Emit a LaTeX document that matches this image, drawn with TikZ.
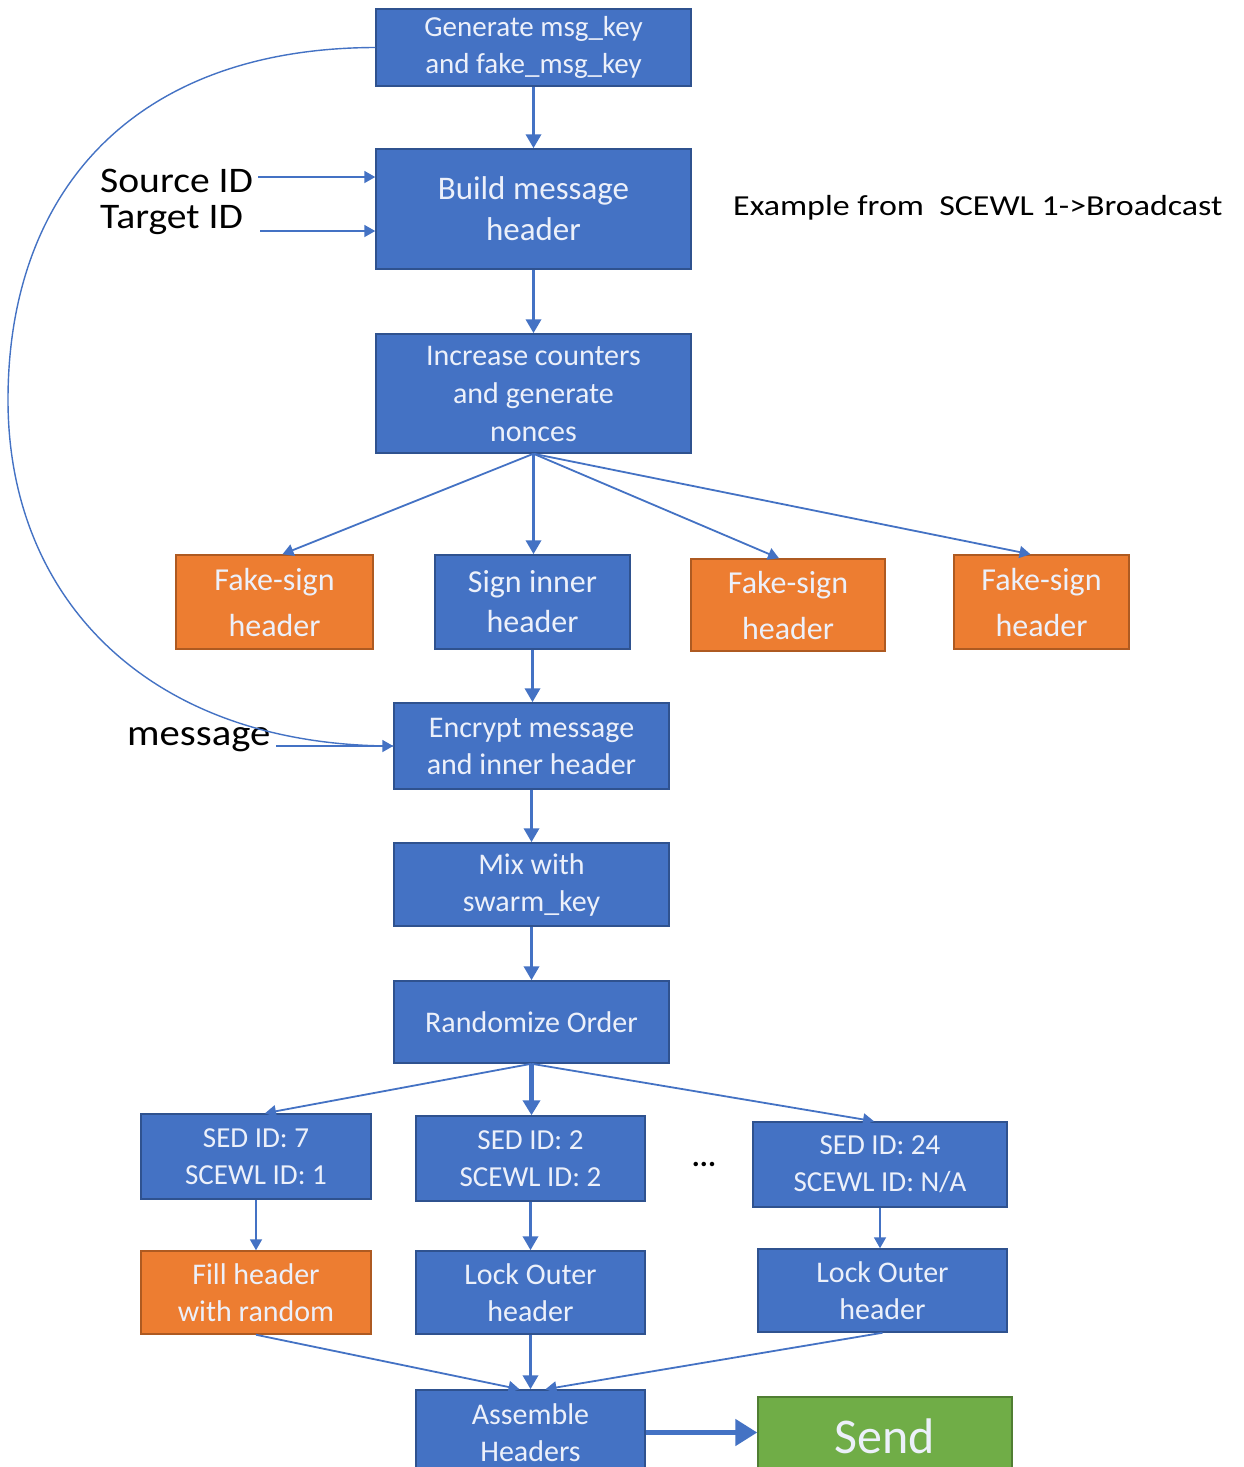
\documentclass[tikz,border=0pt]{standalone}
\usepackage{fontspec}
\setmainfont{Carlito}
\usetikzlibrary{arrows.meta,calc}

\definecolor{boxblue}{HTML}{4472C4}
\definecolor{boxblueline}{HTML}{2F528F}
\definecolor{boxorange}{HTML}{ED7D31}
\definecolor{boxorangeline}{HTML}{AE5A21}
\definecolor{boxgreen}{HTML}{70AD47}
\definecolor{boxgreenline}{HTML}{507E32}
\definecolor{flowline}{HTML}{4472C4}
\definecolor{boxtext}{RGB}{236,240,250}

\newcommand{\fsz}[2]{\fontsize{#1}{#2}\selectfont}

\begin{document}
\begin{tikzpicture}[x=1pt,y=-1pt,
  basebox/.style={rectangle, line width=1.5pt, align=center, inner sep=0pt, text=boxtext},
  bluebox/.style={basebox, draw=boxblueline, fill=boxblue},
  orangebox/.style={basebox, draw=boxorangeline, fill=boxorange},
  greenbox/.style={basebox, draw=boxgreenline, fill=boxgreen},
  label/.style={inner sep=0pt, anchor=west, text=black},
  thickarr/.style={draw=flowline, line width=3.5pt, -{Triangle[width=15pt,length=14pt]}},
  thinarr/.style={draw=flowline, line width=1.8pt, -{Triangle[width=12pt,length=11pt]}},
  fatarr/.style={draw=flowline, line width=5pt, -{Triangle[width=26pt,length=22pt]}},
  curvel/.style={draw=flowline, line width=1.4pt}
]
\clip (0,0) rectangle (1244,1467);
\fill[white] (0,0) rectangle (1244,1467);

% main column
\node[bluebox, minimum width=315, minimum height=77, font=\fsz{29}{37}] (gen) at (533.5,47.5) {Generate msg\_key\\and fake\_msg\_key};
\node[bluebox, minimum width=315, minimum height=120, font=\fsz{33}{41}] (build) at (533.5,209) {Build message\\header};
\node[bluebox, minimum width=315, minimum height=119, font=\fsz{30}{38}] (inc) at (533.5,393.5) {Increase counters\\and generate\\nonces};

% signing row
\node[orangebox, minimum width=197, minimum height=94, font=\fsz{32}{46}] (f1) at (274.5,602) {Fake-sign\\header};
\node[bluebox, minimum width=195, minimum height=94, font=\fsz{32}{40}] (sign) at (532.5,602) {Sign inner\\header};
\node[orangebox, minimum width=194, minimum height=92, font=\fsz{32}{46}] (f2) at (788,605) {Fake-sign\\header};
\node[orangebox, minimum width=175, minimum height=94, font=\fsz{32}{46}] (f3) at (1041.5,602) {Fake-sign\\header};

\node[bluebox, minimum width=275, minimum height=86, font=\fsz{30}{37}] (enc) at (531.5,746) {Encrypt message\\and inner header};
\node[bluebox, minimum width=275, minimum height=83, font=\fsz{30}{37}] (mix) at (531.5,884.5) {Mix with\\swarm\_key};
\node[bluebox, minimum width=275, minimum height=82, font=\fsz{30}{37}] (rand) at (531.5,1022) {Randomize Order};

% per-SED row
\node[bluebox, minimum width=230, minimum height=85, font=\fsz{29}{37}] (sed7) at (256,1156.5) {SED ID: 7\\SCEWL ID: 1};
\node[bluebox, minimum width=229, minimum height=85, font=\fsz{29}{37}] (sed2) at (530.5,1158.5) {SED ID: 2\\SCEWL ID: 2};
\node[bluebox, minimum width=254, minimum height=85, font=\fsz{29}{37}] (sed24) at (880,1164.5) {SED ID: 24\\SCEWL ID: N/A};
\node[inner sep=0pt, font=\fsz{30}{30}\bfseries] (dots) at (704,1164) {...};

\node[orangebox, minimum width=230, minimum height=83, font=\fsz{30}{37}] (fill) at (256,1292.5) {Fill header\\with random};
\node[bluebox, minimum width=229, minimum height=83, font=\fsz{30}{37}] (lock1) at (530.5,1292.5) {Lock Outer\\header};
\node[bluebox, minimum width=249, minimum height=83, font=\fsz{30}{37}] (lock2) at (882.5,1290.5) {Lock Outer\\header};

\node[bluebox, minimum width=229, minimum height=85, font=\fsz{30}{37}] (asm) at (530.5,1432.5) {Assemble\\Headers};
\node[greenbox, minimum width=254, minimum height=78, font=\fsz{50}{50}] (send) at (885,1436) {Send};

% side labels
\node[label, font=\fsz{36}{36}] (src) at (100,181) {\scalebox{1.1}[1]{Source ID}};
\node[label, font=\fsz{36}{36}] (tgt) at (100,220) {\scalebox{1.1}[1]{Target ID}};
\node[label, font=\fsz{37}{37}] (msg) at (127,740) {\scalebox{1.1}[1]{message}};
\node[label, font=\fsz{29}{29}] (note) at (733,208) {\scalebox{1.17}[1]{Example from\ \ SCEWL 1->Broadcast}};

% connectors
\draw[thickarr] (gen) -- (build);
\draw[thickarr] (build) -- (inc);
\draw[thinarr] (258,177) coordinate (srcend) -- (srcend -| build.west);
\draw[thinarr] (260,231) coordinate (tgtend) -- (tgtend -| build.west);

\draw[thinarr] (inc.south) -- ([xshift=8pt]f1.north);
\draw[thickarr] (inc.south) -- (inc.south |- sign.north);
\draw[thinarr] (inc.south) -- ([xshift=-9pt]f2.north);
\draw[thinarr] (inc.south) -- ([xshift=-11pt]f3.north);

\draw[thickarr] (sign) -- (sign.south |- enc.north);
\draw[curvel] (gen.west) .. controls (135,48) and (8,190) .. (8,400)
  .. controls (8,600) and (150,746) .. (enc.west);
\draw[thinarr] (276,746) coordinate (msgend) -- (enc.west);

\draw[thickarr] (enc) -- (mix);
\draw[thickarr] (mix) -- (rand);

\draw[thinarr] (rand.south) -- ([xshift=9pt]sed7.north);
\draw[draw=flowline, line width=4.5pt, -{Triangle[width=17pt,length=15pt]}] (rand.south) -- (rand.south |- sed2.north);
\draw[thinarr] (rand.south) -- ([xshift=-6pt]sed24.north);

\draw[thinarr] (sed7) -- (fill);
\draw[thickarr] (sed2) -- (lock1);
\draw[thinarr] (sed24) -- (sed24.south |- lock2.north);

\draw[thinarr] (fill.south) -- ([xshift=-11pt]asm.north);
\draw[thickarr] (lock1) -- (asm);
\draw[thinarr] (lock2.south) -- ([xshift=15pt]asm.north);

\draw[fatarr] (asm.east) -- (asm.east -| send.west);
\end{tikzpicture}
\end{document}
